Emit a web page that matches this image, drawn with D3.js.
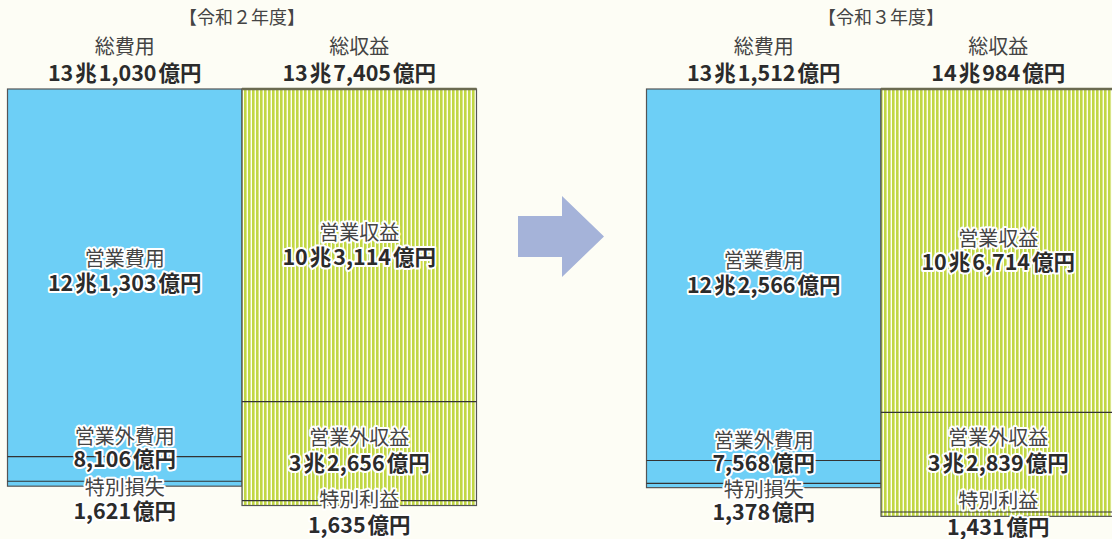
<!DOCTYPE html>
<html>
<head>
<meta charset="utf-8">
<script src="https://cdn.jsdelivr.net/npm/d3@7"></script>
<style>
  html, body { margin: 0; padding: 0; background: #fdfdf5; }
  svg { display: block; font-family: "Noto Sans CJK JP", "Noto Sans", sans-serif; }
</style>
</head>
<body>
<div id="chart"></div>
<script>
// values in 億円
var years = ["令和２年度", "令和３年度"];
var costTitle = "総費用";
var revenueTitle = "総収益";
var costNames = ["営業費用", "営業外費用", "特別損失"];
var revenueNames = ["営業収益", "営業外収益", "特別利益"];
var costValues = [[121303, 8106, 1621], [122566, 7568, 1378]];
var revenueValues = [[103114, 32656, 1635], [106714, 32839, 1431]];

var width = 1112, height = 539;
var barTop = 89;
var barWidth = 234.5;
var panelLeft = [7.5, 646.5];

var blue = "#6dcff6", green = "#c1d744", ink = "#2b2b2b", grey = "#444";

var svg = d3.select("#chart").append("svg")
  .attr("width", width)
  .attr("height", height);

svg.append("rect").attr("width", width).attr("height", height).attr("fill", "#fdfdf5");

// vertical stripes for revenue
var pat = svg.append("defs").append("pattern")
  .attr("id", "stripes")
  .attr("patternUnits", "userSpaceOnUse")
  .attr("width", 4).attr("height", 4);
pat.append("rect").attr("width", 4).attr("height", 4).attr("fill", green);
pat.append("rect").attr("x", 2.6).attr("width", 1.4).attr("height", 4).attr("fill", "#fdfef2");

var y = d3.scaleLinear()
  .domain([0, 141000])
  .range([barTop, barTop + 427.4]);

function fmt(v) {
  var parts = [];
  if (v >= 10000) {
    parts.push([String(Math.floor(v / 10000)), true]);
    parts.push(["兆", false]);
    parts.push([d3.format(",")(v % 10000), true]);
  } else {
    parts.push([d3.format(",")(v), true]);
  }
  parts.push(["億円", false]);
  return parts;
}

function halo(t) {
  t.attr("stroke", "#fff").attr("stroke-width", 4)
    .attr("stroke-linejoin", "round").attr("paint-order", "stroke");
}

function valueText(g, x, yy, v, withHalo) {
  var t = g.append("text")
    .attr("x", x).attr("y", yy)
    .attr("dy", "0.36em")
    .attr("text-anchor", "middle")
    .attr("font-size", 21.5)
    .attr("font-weight", "bold")
    .attr("fill", ink);
  if (withHalo) halo(t);
  fmt(v).forEach(function(p, i) {
    t.append("tspan")
      .attr("dx", i > 0 ? 2 : 0)
      .text(p[0]);
  });
  return t;
}

function nameText(g, x, yy, s, withHalo) {
  var t = g.append("text")
    .attr("x", x).attr("y", yy)
    .attr("dy", "0.36em")
    .attr("text-anchor", "middle")
    .attr("font-size", 20)
    .attr("fill", grey)
    .text(s);
  if (withHalo) halo(t);
  return t;
}

years.forEach(function(yr, k) {
  var x0 = panelLeft[k];
  var xc = x0 + barWidth / 2;       // cost column centre
  var xr = x0 + barWidth * 1.5;     // revenue column centre
  var g = svg.append("g");

  var costTotal = d3.sum(costValues[k]);
  var revTotal = d3.sum(revenueValues[k]);

  // headers
  g.append("text")
    .attr("x", x0 + barWidth).attr("y", 18).attr("dy", "0.36em")
    .attr("text-anchor", "middle").attr("font-size", 18).attr("fill", grey)
    .text("【" + yr + "】");
  nameText(g, xc, 47, costTitle, false);
  nameText(g, xr, 47, revenueTitle, false);
  valueText(g, xc, 73, costTotal, false);
  valueText(g, xr, 73, revTotal, false);

  // cost bar
  var cum = 0;
  var costSegs = costValues[k].map(function(v) {
    var s = { v: v, y0: y(cum), y1: y(cum + v) };
    cum += v;
    return s;
  });
  g.append("rect")
    .attr("x", x0).attr("y", y(0))
    .attr("width", barWidth).attr("height", y(costTotal) - y(0))
    .attr("fill", blue).attr("stroke", "#555").attr("stroke-width", 1.2);
  costSegs.slice(1).forEach(function(s) {
    g.append("line")
      .attr("x1", x0).attr("x2", x0 + barWidth)
      .attr("y1", s.y0).attr("y2", s.y0)
      .attr("stroke", "#333").attr("stroke-width", 1.2);
  });

  // revenue bar
  cum = 0;
  var revSegs = revenueValues[k].map(function(v) {
    var s = { v: v, y0: y(cum), y1: y(cum + v) };
    cum += v;
    return s;
  });
  g.append("rect")
    .attr("x", x0 + barWidth).attr("y", y(0))
    .attr("width", barWidth).attr("height", y(revTotal) - y(0))
    .attr("fill", "url(#stripes)").attr("stroke", "#555").attr("stroke-width", 1.2);
  revSegs.slice(1).forEach(function(s) {
    g.append("line")
      .attr("x1", x0 + barWidth).attr("x2", x0 + barWidth * 2)
      .attr("y1", s.y0).attr("y2", s.y0)
      .attr("stroke", "#333").attr("stroke-width", 1.2);
  });
  g.append("line")
    .attr("x1", x0 + barWidth).attr("x2", x0 + barWidth * 2)
    .attr("y1", y(0)).attr("y2", y(0))
    .attr("stroke", "#6b6b50").attr("stroke-width", 2.5);

  // cost labels
  var c = costSegs;
  var mid = (c[0].y0 + c[0].y1) / 2 - 2;
  nameText(g, xc, mid - 12, costNames[0], true);
  valueText(g, xc, mid + 12, c[0].v, true);
  nameText(g, xc, c[1].y0 - 20, costNames[1], true);
  valueText(g, xc, c[1].y0 + 3, c[1].v, true);
  nameText(g, xc, c[2].y1 + 2, costNames[2], true);
  valueText(g, xc, c[2].y1 + 25, c[2].v, true);

  // revenue labels
  var r = revSegs;
  mid = (r[0].y0 + r[0].y1) / 2;
  nameText(g, xr, mid - 12, revenueNames[0], true);
  valueText(g, xr, mid + 12, r[0].v, true);
  mid = Math.min((r[1].y0 + r[1].y1) / 2, 451);
  nameText(g, xr, mid - 13, revenueNames[1], true);
  valueText(g, xr, mid + 12, r[1].v, true);
  var vy = Math.min(r[2].y1 + 20, 527);
  nameText(g, xr, vy - 26, revenueNames[2], true);
  valueText(g, xr, vy, r[2].v, true);
});

// arrow between the panels
svg.append("path")
  .attr("d", d3.line()([[518, 216], [562, 216], [562, 196], [604, 236.5], [562, 277], [562, 257], [518, 257]]) + "Z")
  .attr("fill", "#a5b3d9");
</script>
</body>
</html>
